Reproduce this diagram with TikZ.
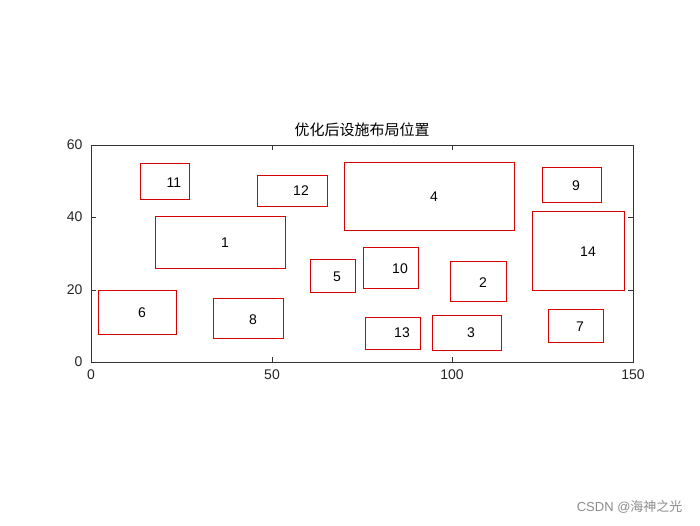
\documentclass[tikz,border=0pt]{standalone}
\usepackage{fontspec}
\setmainfont{Liberation Sans}
\newfontfamily\cjk{Noto Sans CJK SC}
\begin{document}
\begin{tikzpicture}[x=1pt,y=-1pt,
  fac/.style={draw=red!85!black,line width=0.4pt},
  lab/.style={font=\fontsize{14}{16}\selectfont},
  tick/.style={font=\fontsize{14}{16}\selectfont,text=black!85}]
\useasboundingbox (0,0) rectangle (700,525);
\fill[white] (0,0) rectangle (700,525);
% axes
\draw[black!80,line width=0.5pt] (91,145) rectangle (633,362);
\foreach \x/\t in {91/0,272/50,452/100,633/150}{
  \draw[black!80] (\x,362) -- (\x,357) (\x,145) -- (\x,150);
  \node[tick,anchor=north] at (\x,366) {\t};}
\foreach \y/\t in {362/0,290/20,217/40,145/60}{
  \draw[black!80] (91,\y) -- (96,\y) (633,\y) -- (628,\y);
  \node[tick,anchor=east] at (86,\y) {\t};}
\node[font=\cjk\fontsize{15}{17}\selectfont] (title) at (362,130) {优化后设施布局位置};
% facilities
\foreach \n/\a/\b/\c/\d/\lx/\ly in {
 1/155/216/285/268/225/243,
 6/98/290/176/334/142/313,
 8/213/298/283/338/253/320,
 11/140/163/189/199/174/183,
 12/257/175/327/206/301/191,
 5/310/259/355/292/337/277,
 10/363/247/418/288/400/269,
 4/344/162/514/230/434/197,
 13/365/317/420/349/402/333,
 3/432/315/501/350/471/333,
 2/450/261/506/301/483/283,
 9/542/167/601/202/576/186,
 14/532/211/624/290/588/252,
 7/548/309/603/342/580/327}{
  \draw[fac] (\a,\b) rectangle (\c,\d);
  \node[lab] (f\n) at (\lx,\ly) {\n};}
\node[text=black!45,font=\fontsize{13}{15}\selectfont,anchor=east] (wm) at (686,507) {CSDN @{\cjk 海神之光}};
\end{tikzpicture}
\end{document}
